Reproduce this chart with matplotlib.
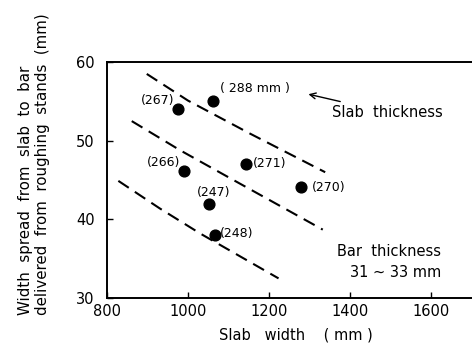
import matplotlib.pyplot as plt

# measured points (slab width, width spread) with slab thickness labels
slab_width = [975, 1062, 991, 1143, 1278, 1051, 1067]
width_spread = [54.0, 55.1, 46.1, 47.1, 44.1, 42.0, 38.0]
labels = ['(267)', '( 288 mm )', '(266)', '(271)', '(270)', '(247)', '(248)']
# label offsets in pixels and alignment
offsets = [(-4, 9), (7, 12), (-4, 9), (7, 0), (11, 0), (5, 11), (5, 2)]
aligns = ['right', 'left', 'right', 'left', 'left', 'center', 'left']

# dashed trend lines
upper_x = [898, 1000, 1153, 1338]
upper_y = [58.5, 55.1, 50.9, 46.0]
middle_x = [861, 980, 1112, 1332]
middle_y = [52.5, 48.8, 45.0, 38.7]
lower_x = [828, 930, 1030, 1223]
lower_y = [44.9, 41.4, 38.2, 32.5]

plt.rcParams['font.family'] = 'DejaVu Sans'

fig = plt.figure(figsize=(4.72, 3.49), dpi=100)
ax = fig.add_axes([0.2267, 0.146, 0.7733, 0.676])

for xs, ys in [(upper_x, upper_y), (middle_x, middle_y), (lower_x, lower_y)]:
    ax.plot(xs, ys, color='black', lw=1.5, linestyle=(0, (6, 3.5)))

ax.scatter(slab_width, width_spread, s=60, color='black', zorder=3)

for x, y, t, off, ha in zip(slab_width, width_spread, labels, offsets, aligns):
    ax.annotate(t, (x, y), xytext=off, textcoords='offset pixels',
                ha=ha, va='center', fontsize=9)

ax.annotate('Slab  thickness', xy=(1290, 56.0), xytext=(1355, 53.6),
            fontsize=10.5, va='center', ha='left',
            arrowprops=dict(arrowstyle='->', color='black', lw=1))

ax.text(1368, 35.9, 'Bar  thickness', fontsize=10.5, va='center', ha='left')
ax.text(1512, 33.3, '31 ~ 33 mm', fontsize=10.5, va='center', ha='center')

ax.set_xlim(800, 1700)
ax.set_ylim(30, 60)
ax.set_xticks([800, 1000, 1200, 1400, 1600])
ax.set_yticks([30, 40, 50, 60])
ax.tick_params(direction='in', length=4, width=1, labelsize=10.5)
ax.tick_params(axis='x', pad=4)
ax.tick_params(axis='y', pad=9)
ax.spines['right'].set_visible(False)
for s in ['left', 'top', 'bottom']:
    ax.spines[s].set_linewidth(1.4)

fig.text(0.627, 0.02, 'Slab   width    ( mm )', ha='center', va='bottom', fontsize=10.5)
fig.text(0.053, 0.0974, 'Width  spread  from  slab  to  bar', rotation=90,
         ha='center', va='bottom', fontsize=10.8)
fig.text(0.091, 0.0974, 'delivered  from  roughing  stands  (mm)', rotation=90,
         ha='center', va='bottom', fontsize=10.8)

fig.savefig('out.png', dpi=100)
